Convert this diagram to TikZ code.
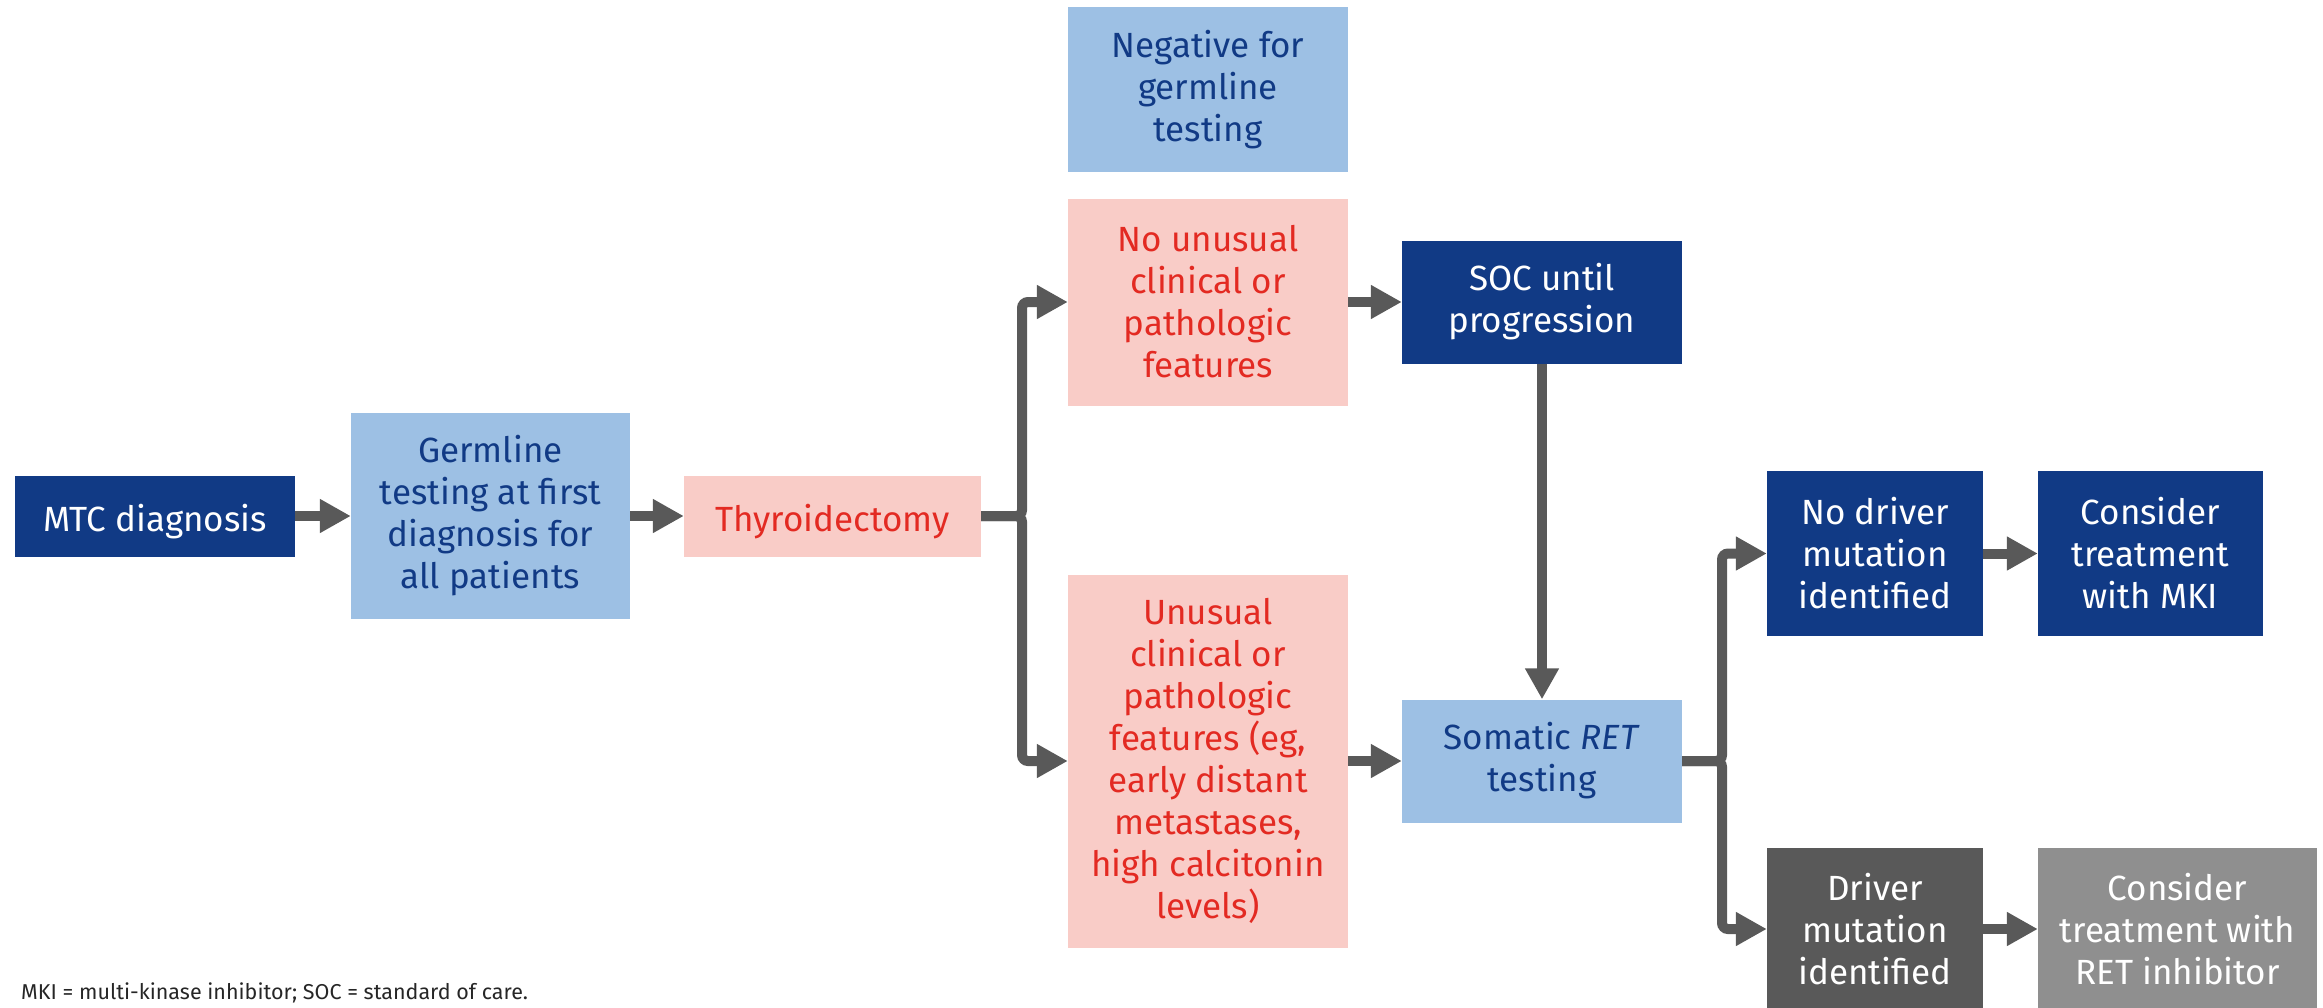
\documentclass[tikz,border=0pt]{standalone}
\usepackage{fontspec}
\setmainfont{Fira Sans}
\usetikzlibrary{arrows.meta}
\definecolor{navy}{HTML}{113A85}
\definecolor{lblue}{HTML}{9DC0E4}
\definecolor{pinkbg}{HTML}{F9CCC7}
\definecolor{redtxt}{HTML}{E32A22}
\definecolor{dgray}{HTML}{595959}
\definecolor{mgray}{HTML}{8F8F8F}
\definecolor{arrgray}{HTML}{595959}
\definecolor{foot}{HTML}{262626}
\newcommand\myup{\rule{0pt}{39pt}}
\tikzset{
  box/.style={rectangle, inner sep=0pt, align=center,
    font=\fontsize{35}{42}\selectfont, execute at begin node=\myup},
  navybox/.style={box, fill=navy, text=white},
  bluebox/.style={box, fill=lblue, text=navy},
  pinkbox/.style={box, fill=pinkbg, text=redtxt},
  dgraybox/.style={box, fill=dgray, text=white},
  mgraybox/.style={box, fill=mgray, text=white},
  arr/.style={draw=arrgray, line width=10pt, rounded corners=6pt,
    -{Triangle[width=32pt,length=31pt]}},
}
\begin{document}
\begin{tikzpicture}[x=1pt,y=-1pt]
\useasboundingbox (0,0) rectangle (2323,1007);
\node[navybox, minimum width=280pt, minimum height=81pt] (mtc) at (155,516) {MTC diagnosis};
\node[bluebox, minimum width=279pt, minimum height=206pt] (germ) at (490.5,516) {Germline\\testing at first\\diagnosis for\\all patients};
\node[pinkbox, minimum width=297pt, minimum height=81pt] (thyr) at (832.5,516) {Thyroidectomy};
\node[bluebox, minimum width=280pt, minimum height=165pt] (neg) at (1208,89.5) {Negative for\\germline\\testing};
\node[pinkbox, minimum width=280pt, minimum height=207pt] (nounu) at (1208,302) {No unusual\\clinical or\\pathologic\\features};
\node[navybox, minimum width=280pt, minimum height=123pt] (soc) at (1542,302) {SOC until\\progression};
\node[pinkbox, minimum width=280pt, minimum height=373pt] (unu) at (1208,761) {Unusual\\clinical or\\pathologic\\features (eg,\\early distant\\metastases,\\high calcitonin\\levels)};
\node[bluebox, minimum width=280pt, minimum height=123pt] (som) at (1542,761) {Somatic \textit{RET}\\testing};
\node[navybox, minimum width=216pt, minimum height=165pt] (nodrv) at (1875,553.5) {No driver\\mutation\\identified};
\node[navybox, minimum width=225pt, minimum height=165pt] (mki) at (2150.5,553.5) {Consider\\treatment\\with MKI};
\node[dgraybox, minimum width=216pt, minimum height=162pt] (drv) at (1875,929) {Driver\\mutation\\identified};
\node[mgraybox, minimum width=279pt, minimum height=162pt] (ret) at (2177.5,929) {Consider\\treatment with\\RET inhibitor};
\node[anchor=base west, inner sep=0pt, text=foot, font=\fontsize{21.5}{26}\selectfont] (fn) at (21,999) {MKI = multi-kinase inhibitor; SOC = standard of care.};
\coordinate (j1) at (1022,516);
\coordinate (j2) at (1722,761);
\draw[arr] (mtc.east) -- (germ.west);
\draw[arr] (germ.east) -- (thyr.west);
\draw[arr] (thyr.east) -- (j1) |- (nounu.west);
\draw[arr] (thyr.east) -- (j1) |- (unu.west);
\draw[arr] (nounu.east) -- (soc.west);
\draw[arr] (soc.south) -- (som.north);
\draw[arr] (unu.east) -- (som.west);
\draw[arr] (som.east) -- (j2) |- (nodrv.west);
\draw[arr] (som.east) -- (j2) |- (drv.west);
\draw[arr] (nodrv.east) -- (mki.west);
\draw[arr] (drv.east) -- (ret.west);
\end{tikzpicture}
\end{document}
